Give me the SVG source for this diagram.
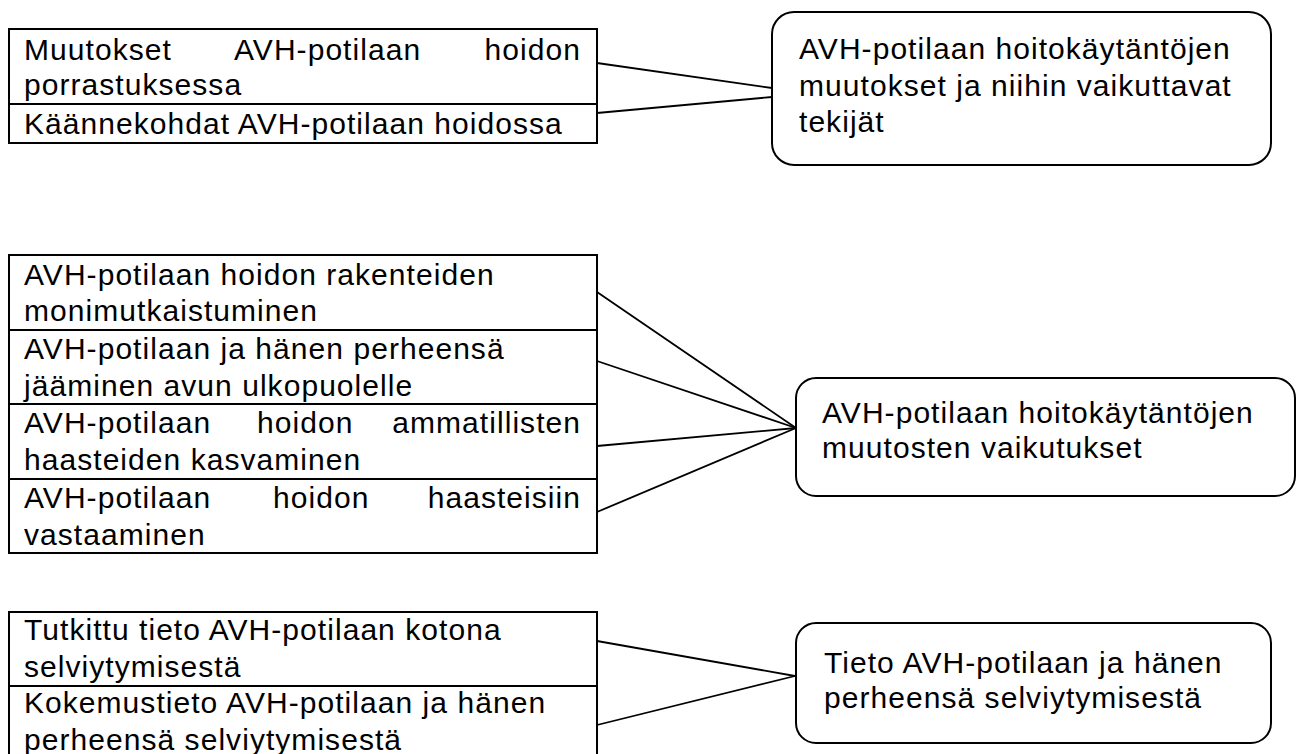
<svg xmlns="http://www.w3.org/2000/svg" width="1298" height="754" viewBox="0 0 1298 754">
<style>
  text { font-family: "Liberation Sans", Arial, sans-serif; font-size: 30px; letter-spacing: 1.05px; fill: #000; }
  .box { fill: #fff; stroke: #000; stroke-width: 2; }
  .sep { stroke: #000; stroke-width: 2; }
  .rbox { fill: #fff; stroke: #000; stroke-width: 2; }
  .conn line { stroke: #000; stroke-width: 1.8; }
  .end { text-anchor: end; }
</style>
<rect width="1298" height="754" fill="#fff"/>

<g id="connectors" class="conn">
  <line x1="597" y1="63" x2="772" y2="88"/>
  <line x1="597" y1="113" x2="772" y2="97"/>
  <line x1="597" y1="292" x2="796" y2="428"/>
  <line x1="597" y1="361" x2="796" y2="428"/>
  <line x1="597" y1="446" x2="796" y2="428"/>
  <line x1="597" y1="512" x2="796" y2="428"/>
  <line x1="597" y1="641" x2="795" y2="676"/>
  <line x1="597" y1="725" x2="795" y2="676"/>
</g>

<g id="group1-left">
  <rect class="box" x="9" y="29" width="588" height="114"/>
  <line class="sep" x1="9" y1="104" x2="597" y2="104"/>
  <text x="24" y="60">Muutokset</text>
  <text x="234" y="60">AVH-potilaan</text>
  <text class="end" x="581" y="60">hoidon</text>
  <text x="24" y="95">porrastuksessa</text>
  <text x="24" y="134">Käännekohdat AVH-potilaan hoidossa</text>
</g>

<g id="group1-right">
  <rect class="rbox" x="772" y="12" width="499" height="153" rx="22" ry="22"/>
  <text x="799" y="59">AVH-potilaan hoitokäytäntöjen</text>
  <text x="799" y="96">muutokset ja niihin vaikuttavat</text>
  <text x="799" y="132">tekijät</text>
</g>

<g id="group2-left">
  <rect class="box" x="9" y="255" width="588" height="298"/>
  <line class="sep" x1="9" y1="330" x2="597" y2="330"/>
  <line class="sep" x1="9" y1="404" x2="597" y2="404"/>
  <line class="sep" x1="9" y1="479" x2="597" y2="479"/>
  <text x="24" y="285">AVH-potilaan hoidon rakenteiden</text>
  <text x="24" y="321">monimutkaistuminen</text>
  <text x="24" y="359">AVH-potilaan ja hänen perheensä</text>
  <text x="24" y="396">jääminen avun ulkopuolelle</text>
  <text x="24" y="433">AVH-potilaan</text>
  <text x="257" y="433">hoidon</text>
  <text class="end" x="581" y="433">ammatillisten</text>
  <text x="24" y="470">haasteiden kasvaminen</text>
  <text x="24" y="508">AVH-potilaan</text>
  <text x="273" y="508">hoidon</text>
  <text class="end" x="581" y="508">haasteisiin</text>
  <text x="24" y="545">vastaaminen</text>
</g>

<g id="group2-right">
  <rect class="rbox" x="796" y="378" width="499" height="118" rx="20" ry="20"/>
  <text x="822" y="423">AVH-potilaan hoitokäytäntöjen</text>
  <text x="822" y="458">muutosten vaikutukset</text>
</g>

<g id="group3-left">
  <rect class="box" x="9" y="612" width="588" height="160"/>
  <line class="sep" x1="9" y1="686" x2="597" y2="686"/>
  <text x="24" y="640">Tutkittu tieto AVH-potilaan kotona</text>
  <text x="24" y="677">selviytymisestä</text>
  <text x="24" y="713">Kokemustieto AVH-potilaan ja hänen</text>
  <text x="24" y="750">perheensä selviytymisestä</text>
</g>

<g id="group3-right">
  <rect class="rbox" x="796" y="623" width="475" height="120" rx="20" ry="20"/>
  <text x="824" y="673">Tieto AVH-potilaan ja hänen</text>
  <text x="824" y="708">perheensä selviytymisestä</text>
</g>
</svg>
